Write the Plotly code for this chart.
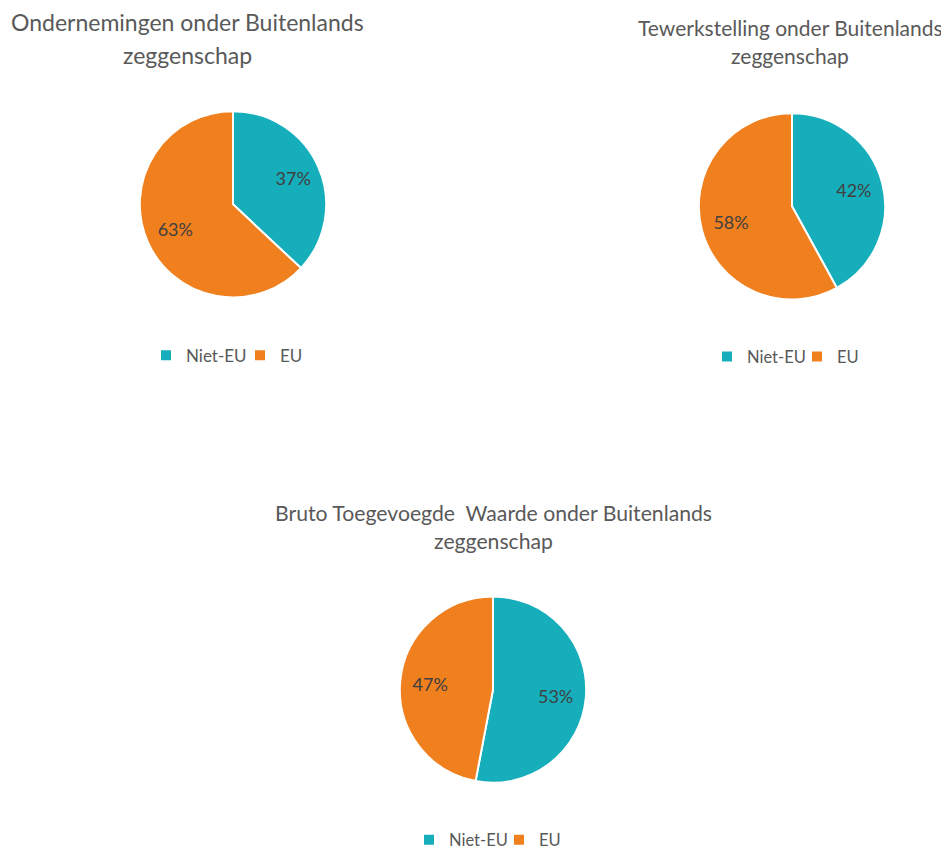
import plotly.graph_objects as go

W, H = 949, 850
OFF = 8  # default page body margin

labels = ["Niet-EU", "EU"]
ondernemingen = [37, 63]
tewerkstelling = [42, 58]
bruto_toegevoegde_waarde = [53, 47]

titles = [
    ["Ondernemingen onder Buitenlands", "zeggenschap"],
    ["Tewerkstelling onder Buitenlands", "zeggenschap"],
    ["Bruto Toegevoegde  Waarde onder Buitenlands", "zeggenschap"],
]

colors = ["#15AEBA", "#F07F1E"]
FONT = "Lato"

def px_x(x):
    return (x - OFF) / W

def px_y(y):
    return 1 - (y - OFF) / H

centers = [(233, 205), (792, 207), (493, 692)]
R = 93.5
K = 1.35  # radius factor for the label layer
legend_pos = [(240, 357), (797, 358), (499, 843)]
legend_entry = [49, 45, 45]
legend_font = [17, 16.5, 16.5]
title_pos = [(187, 22, 55, 23), (790, 28, 56, 21), (493, 515, 543, 21.2)]

fig = go.Figure()
data = [ondernemingen, tewerkstelling, bruto_toegevoegde_waarde]
legend_names = ["legend", "legend2", "legend3"]
for i, vals in enumerate(data):
    cx, cy = centers[i]
    # unique (invisible) suffix so each chart keeps its own legend entries
    labs = [lab + "\u200b" * i for lab in labels]
    fig.add_trace(go.Pie(
        labels=labs, values=vals, sort=False, direction="clockwise", rotation=0,
        marker=dict(colors=colors, line=dict(color="white", width=2)),
        textinfo="none",
        domain=dict(x=[px_x(cx - R), px_x(cx + R)], y=[px_y(cy + R), px_y(cy - R)]),
        legend=legend_names[i], hoverinfo="label+percent",
    ))
    rr = R * K
    fig.add_trace(go.Pie(
        labels=labs, values=vals, sort=False, direction="clockwise", rotation=0,
        marker=dict(colors=["rgba(0,0,0,0)"] * 2, line=dict(width=0)),
        textinfo="percent", texttemplate="%{percent:.0%}", textposition="inside",
        insidetextorientation="horizontal",
        insidetextfont=dict(family=FONT, size=18, color="#404040"),
        domain=dict(x=[px_x(cx - rr), px_x(cx + rr)], y=[px_y(cy + rr), px_y(cy - rr)]),
        legend=legend_names[i], showlegend=False, hoverinfo="skip",
    ))

layout_legends = {}
for i, name in enumerate(legend_names):
    x, y = legend_pos[i]
    layout_legends[name] = dict(
        x=px_x(x), y=px_y(y), orientation="h", xanchor="center", yanchor="middle",
        font=dict(family=FONT, size=legend_font[i], color="#595959"),
        bgcolor="rgba(0,0,0,0)", itemwidth=30, traceorder="normal",
        entrywidth=legend_entry[i], entrywidthmode="pixels")

annotations = []
for i, (cx, y1, y2, fs) in enumerate(title_pos):
    for txt, yy in zip(titles[i], (y1, y2)):
        annotations.append(dict(text=txt, x=px_x(cx), y=px_y(yy), xref="paper", yref="paper",
                                xanchor="center", yanchor="middle", showarrow=False,
                                font=dict(family=FONT, size=fs, color="#595959")))

fig.update_layout(width=W, height=H, margin=dict(l=0, r=0, t=0, b=0),
                  paper_bgcolor="white", plot_bgcolor="white",
                  annotations=annotations, **layout_legends)

fig.write_html("out.html")
